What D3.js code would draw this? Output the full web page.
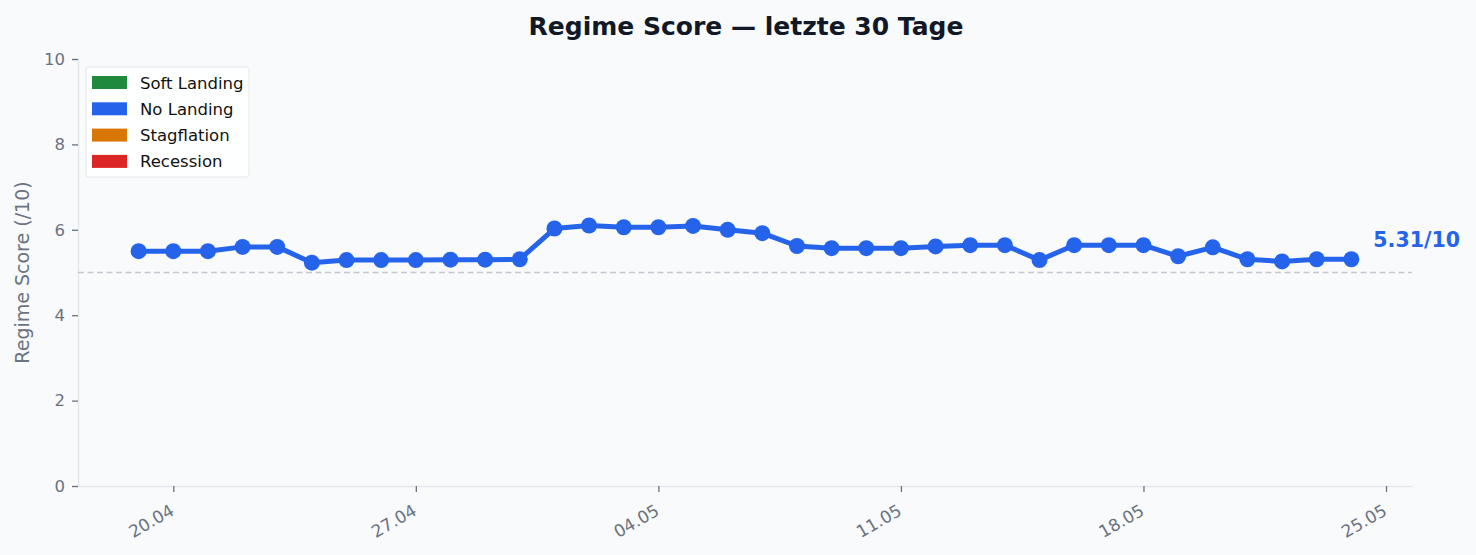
<!DOCTYPE html>
<html>
<head>
<meta charset="utf-8">
<script src="https://cdn.jsdelivr.net/npm/d3@7"></script>
<style>
  html, body { margin: 0; padding: 0; background: #f8fafc; }
  svg { display: block; font-family: "DejaVu Sans", sans-serif; }
</style>
</head>
<body>
<svg id="chart" width="1476" height="555"></svg>
<script>
// daily regime scores, 19.04 - 24.05
const startDate = "2025-04-19";
const scores = [
  5.50, 5.50, 5.50, 5.60, 5.60, 5.23, 5.29, 5.29, 5.29, 5.30,
  5.30, 5.31, 6.03, 6.10, 6.06, 6.06, 6.09, 6.00, 5.92, 5.62,
  5.57, 5.57, 5.57, 5.61, 5.64, 5.64, 5.29, 5.64, 5.64, 5.64,
  5.38, 5.59, 5.31, 5.26, 5.31, 5.31
];
const tickDates = ["2025-04-20", "2025-04-27", "2025-05-04", "2025-05-11", "2025-05-18", "2025-05-25"];
const yTicks = [0, 2, 4, 6, 8, 10];
const legendNames = ["Soft Landing", "No Landing", "Stagflation", "Recession"];
const legendColors = ["#1f8a3e", "#2563eb", "#d97706", "#dc2626"];
const threshold = 5;
const lastLabel = "5.31/10";

const parse = d3.utcParse("%Y-%m-%d");
const start = parse(startDate);
const data = scores.map((v, i) => ({ date: d3.utcDay.offset(start, i), value: v }));

const svg = d3.select("#chart");
const margin = { top: 59, right: 64, bottom: 69, left: 78 };
const width = 1476 - margin.left - margin.right;
const height = 555 - margin.top - margin.bottom;

const g = svg.append("g")
  .attr("transform", `translate(${margin.left},${margin.top})`);

// matplotlib-style 5% padding on x
const first = data[0].date, last = data[data.length - 1].date;
const spanMs = last - first;
const x = d3.scaleUtc()
  .domain([new Date(+first - spanMs * 0.05), new Date(+last + spanMs * 0.05)])
  .range([0, width]);

const y = d3.scaleLinear()
  .domain([0, 10])
  .range([height, 0]);

svg.append("text")
  .attr("x", 746)
  .attr("y", 35)
  .attr("text-anchor", "middle")
  .style("font-size", "25px")
  .style("font-weight", "bold")
  .style("fill", "#111827")
  .text("Regime Score — letzte 30 Tage");

// axes
const yAxis = g.append("g")
  .call(d3.axisLeft(y).tickValues(yTicks).tickSize(6).tickPadding(7));
yAxis.select(".domain").style("stroke", "#e5e7eb").style("stroke-width", 1.5);
yAxis.selectAll(".tick line").style("stroke", "#6b7280").style("stroke-width", 1.3);
yAxis.selectAll("text")
  .style("fill", "#6b7280")
  .style("font-size", "16.5px")
  .style("font-family", "'DejaVu Sans', sans-serif");

const xAxis = g.append("g")
  .attr("transform", `translate(0,${height})`)
  .call(d3.axisBottom(x)
    .tickValues(tickDates.map(parse))
    .tickFormat(d3.utcFormat("%d.%m"))
    .tickSize(6)
    .tickSizeOuter(0));
xAxis.select(".domain").style("stroke", "#e5e7eb").style("stroke-width", 1.5);
xAxis.selectAll(".tick line").style("stroke", "#6b7280").style("stroke-width", 1.3);
xAxis.selectAll("text")
  .style("fill", "#6b7280")
  .style("font-size", "17px")
  .style("font-family", "'DejaVu Sans', sans-serif")
  .attr("text-anchor", "end")
  .attr("x", 0)
  .attr("y", 0)
  .attr("dy", "0")
  .attr("transform", "translate(1.5,28) rotate(-30)");

svg.append("text")
  .attr("transform", `translate(29,${margin.top + y(5.0)}) rotate(-90)`)
  .attr("text-anchor", "middle")
  .style("font-size", "19px")
  .style("fill", "#6b7280")
  .text("Regime Score (/10)");

// threshold line
g.append("line")
  .attr("x1", 0)
  .attr("x2", width)
  .attr("y1", y(threshold))
  .attr("y2", y(threshold))
  .style("stroke", "#c4c8d0")
  .style("stroke-width", 1.3)
  .style("stroke-dasharray", "6,3.5");

const line = d3.line()
  .x(d => x(d.date))
  .y(d => y(d.value));

g.append("path")
  .datum(data)
  .attr("d", line)
  .style("fill", "none")
  .style("stroke", "#2563eb")
  .style("stroke-width", 5)
  .style("stroke-linejoin", "round");

g.selectAll(".dot")
  .data(data)
  .enter()
  .append("circle")
  .attr("class", "dot")
  .attr("cx", d => x(d.date))
  .attr("cy", d => y(d.value))
  .attr("r", 8)
  .style("fill", "#2563eb");

const lastPt = data[data.length - 1];
g.append("text")
  .attr("x", x(lastPt.date) + 22)
  .attr("y", y(lastPt.value) - 12)
  .style("font-size", "20.5px")
  .style("font-weight", "bold")
  .style("fill", "#2563eb")
  .text(lastLabel);

// legend
const legend = g.append("g").attr("transform", "translate(8,8)");
legend.append("rect")
  .attr("width", 163)
  .attr("height", 110)
  .attr("rx", 3)
  .style("fill", "#ffffff")
  .style("fill-opacity", 0.85)
  .style("stroke", "#e5e7eb")
  .style("stroke-width", 1);

const items = legend.selectAll(".item")
  .data(legendNames)
  .enter()
  .append("g")
  .attr("class", "item")
  .attr("transform", (d, i) => `translate(6,${9 + i * 26.3})`);

items.append("rect")
  .attr("width", 35)
  .attr("height", 13)
  .style("fill", (d, i) => legendColors[i]);

items.append("text")
  .attr("x", 48)
  .attr("y", 12.5)
  .style("font-size", "16.5px")
  .style("fill", "#111111")
  .text(d => d);
</script>
</body>
</html>
